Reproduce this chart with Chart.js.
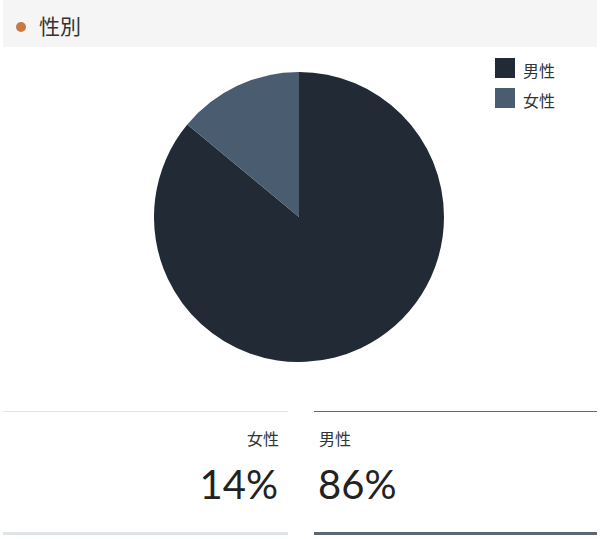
<!DOCTYPE html>
<html>
<head>
<meta charset="utf-8">
<script src="https://cdn.jsdelivr.net/npm/chart.js@4"></script>
<style>
  html, body { margin: 0; padding: 0; background: #fff; width: 600px; height: 539px; overflow: hidden; }
  body { position: relative; font-family: "Noto Sans CJK JP", "Noto Sans", sans-serif; color: #333; }
  #header { position: absolute; left: 3px; top: 0; width: 594px; height: 47px; background: #f5f5f5; }
  #dot { position: absolute; left: 13px; top: 22px; width: 10px; height: 10px; border-radius: 50%; background: #c87a45; }
  #title { position: absolute; left: 36px; top: 10px; font-size: 21px; line-height: 30px; color: #333; }
  #chartBox { position: absolute; left: 154px; top: 72px; width: 290px; height: 290px; }
  #legend { position: absolute; left: 495px; top: 58px; }
  .li { position: relative; height: 30px; }
  .sw { position: absolute; left: 0; top: 0; width: 20px; height: 20px; box-sizing: border-box; }
  .lt { position: absolute; left: 28px; top: -1px; font-size: 16px; line-height: 26px; color: #333; white-space: nowrap; }
  .stat { position: absolute; top: 411px; height: 124px; box-sizing: border-box; }
  .stat .lab { position: absolute; top: 14px; font-size: 16px; line-height: 24px; color: #333; }
  .stat .val { position: absolute; top: 44px; font-family: "Lato", "Noto Sans", sans-serif; font-weight: 400; font-size: 40px; line-height: 56px; color: #222; }
</style>
</head>
<body>
<div id="header"><div id="dot"></div><div id="title"></div></div>
<div id="chartBox"><canvas id="c" width="290" height="290"></canvas></div>
<div id="legend"></div>
<div id="stats"></div>
<script>
const title = "性別";
const categories = ["男性", "女性"];
const values = [86, 14];
const colors = ["#212a35", "#4a5d70"];
const statOrder = ["女性", "男性"];
const statTopBorders = ["#dfe4e7", "#5e6b7a"];
const statBottomBorders = ["#dfe4e7", "#5a6675"];

document.getElementById("title").textContent = title;

new Chart(document.getElementById("c"), {
  type: "pie",
  data: {
    labels: categories,
    datasets: [{
      data: values,
      backgroundColor: colors,
      borderWidth: 0,
      hoverOffset: 0,
      offset: 0
    }]
  },
  options: {
    responsive: false,
    animation: false,
    layout: { padding: 0 },
    plugins: { legend: { display: false }, tooltip: { enabled: false } }
  }
});

const legend = document.getElementById("legend");
categories.forEach((c, i) => {
  const li = document.createElement("div");
  li.className = "li";
  const sw = document.createElement("div");
  sw.className = "sw";
  sw.style.background = colors[i];
  const lt = document.createElement("div");
  lt.className = "lt";
  lt.textContent = c;
  li.appendChild(sw); li.appendChild(lt);
  legend.appendChild(li);
});

const stats = document.getElementById("stats");
statOrder.forEach((name, k) => {
  const idx = categories.indexOf(name);
  const box = document.createElement("div");
  box.className = "stat";
  if (k === 0) { box.style.left = "3px"; box.style.width = "285px"; }
  else { box.style.left = "314px"; box.style.width = "283px"; }
  box.style.borderTop = "1px solid " + statTopBorders[k];
  box.style.borderBottom = "3px solid " + statBottomBorders[k];
  const lab = document.createElement("div");
  lab.className = "lab";
  lab.textContent = name;
  const val = document.createElement("div");
  val.className = "val";
  val.textContent = values[idx] + "%";
  if (k === 0) { lab.style.right = "9px"; val.style.right = "10px"; }
  else { lab.style.left = "5px"; val.style.left = "4px"; }
  box.appendChild(lab); box.appendChild(val);
  stats.appendChild(box);
});
</script>
</body>
</html>
